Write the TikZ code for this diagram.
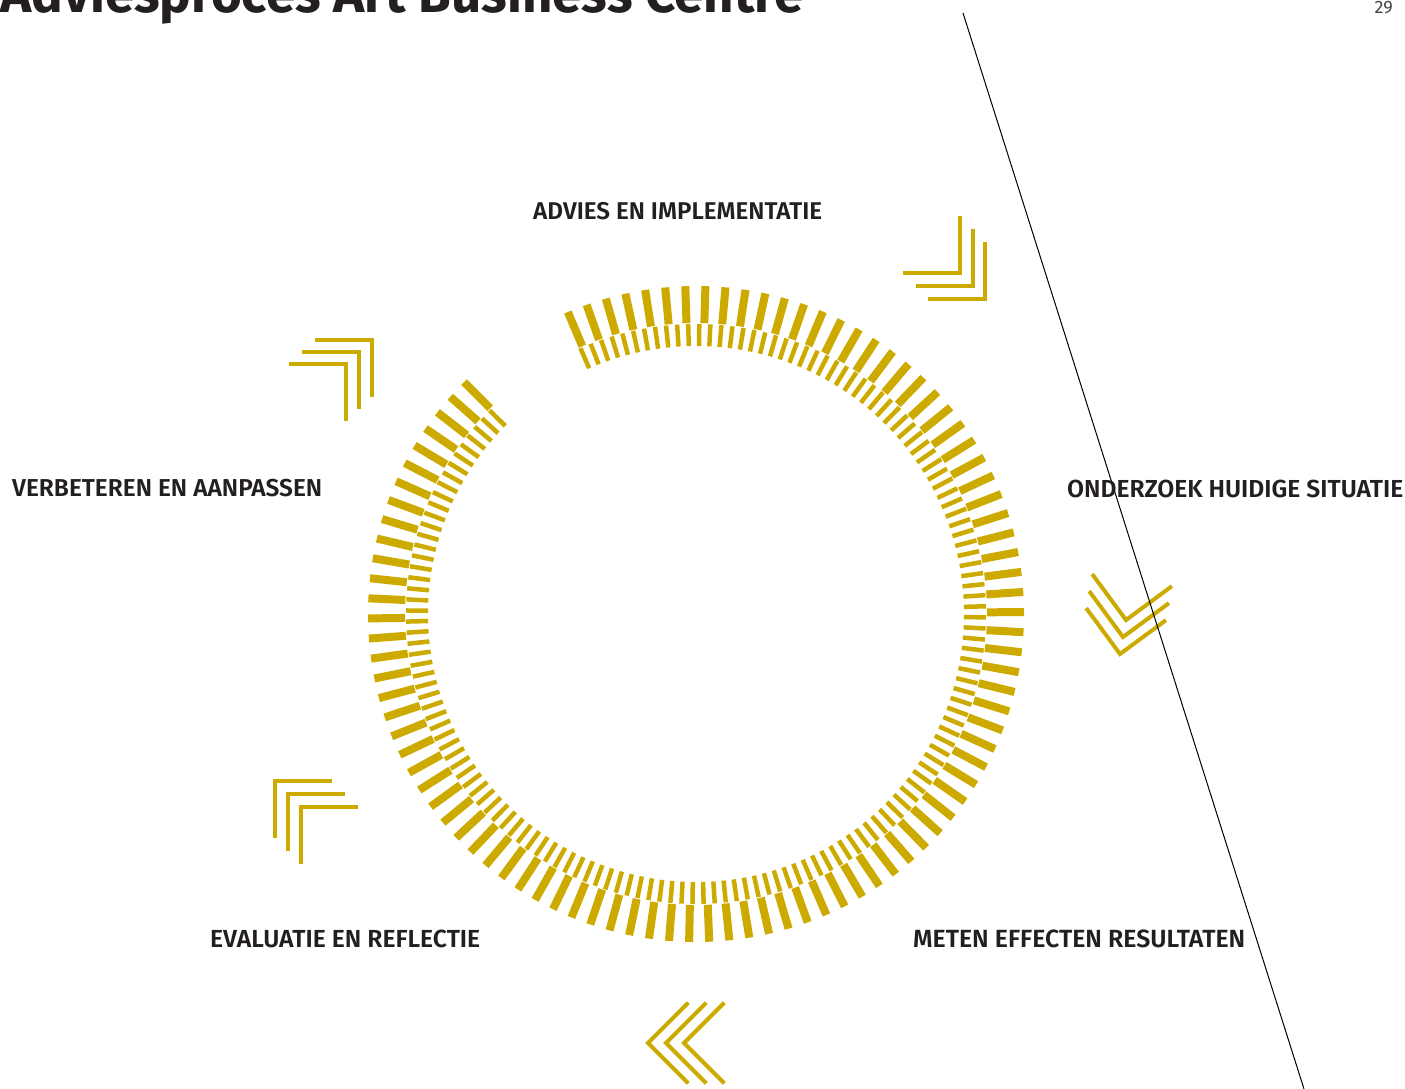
\documentclass[tikz,border=0pt]{standalone}
\usepackage{graphicx}
\usepackage{fontspec}
\setmainfont{Fira Sans}
\newfontfamily\lblfont{Fira Sans}[UprightFont={* Medium}, BoldFont={* SemiBold}]
\definecolor{gold}{RGB}{204,170,0}
\definecolor{ink}{RGB}{35,31,32}
\newcommand\chevron[4]{\draw[chevline] (#1,#2) ++(#3:57) -- (#1,#2) -- ++(#4:57);}
\begin{document}
\begin{tikzpicture}[x=1pt,y=-1pt,
  outertick/.style={draw=gold, line width=8pt},
  innertick/.style={draw=gold, line width=4.5pt},
  chevline/.style={draw=gold, line width=4pt, miter limit=10},
  lbltext/.style={anchor=base west, inner sep=0pt, text=ink, font=\lblfont\bfseries}]
\useasboundingbox (0,0) rectangle (1405,1089);
\coordinate (C) at (696,614);
% ring
\foreach \i in {0,...,96} {
  \pgfmathsetmacro\a{-113+3.5208*\i}
  \draw[outertick, shift={(C)}] (\a:291) -- (\a:328);
}
\foreach \i in {0,...,154} {
  \pgfmathsetmacro\a{-113.5+2.1955*\i}
  \draw[innertick, shift={(C)}] (\a:268) -- (\a:290);
}
% chevrons: top-right
\chevron{960}{273}{-90}{180}
\chevron{973}{286}{-90}{180}
\chevron{985}{299}{-90}{180}
% right
\chevron{1126}{620}{-36.4}{-126.4}
\chevron{1123}{637}{-36.4}{-126.4}
\chevron{1120}{654}{-36.4}{-126.4}
% bottom
\chevron{648}{1043}{45}{-45}
\chevron{666}{1043}{45}{-45}
\chevron{684}{1043}{45}{-45}
% lower-left
\chevron{275}{781}{90}{0}
\chevron{288}{794}{90}{0}
\chevron{301}{807}{90}{0}
% upper-left
\chevron{372}{340}{180}{90}
\chevron{359}{352}{180}{90}
\chevron{346}{364}{180}{90}
% diagonal line
\coordinate (lt) at (963,13);
\coordinate (lb) at (1304,1089);
\draw[black, line width=1pt] (lt) -- (lb);
% texts
\node[anchor=base west, inner sep=0pt, text=ink, font=\bfseries] (title) at (0,13) {\resizebox{803pt}{!}{Adviesproces Art Business Centre}};
\node[anchor=base east, inner sep=0pt, text=ink!85] (page) at (1393,14) {\fontsize{18}{18}\selectfont 29};
\node[lbltext] (advies) at (533,219) {\resizebox{289pt}{!}{ADVIES EN IMPLEMENTATIE}};
\node[lbltext] (onderzoek) at (1067,497) {\resizebox{336pt}{!}{ONDERZOEK HUIDIGE SITUATIE}};
\node[lbltext] (verbeteren) at (12,496) {\resizebox{310pt}{!}{VERBETEREN EN AANPASSEN}};
\node[lbltext] (meten) at (913,947) {\resizebox{332pt}{!}{METEN EFFECTEN RESULTATEN}};
\node[lbltext] (evaluatie) at (210,947) {\resizebox{270pt}{!}{EVALUATIE EN REFLECTIE}};
\end{tikzpicture}
\end{document}
